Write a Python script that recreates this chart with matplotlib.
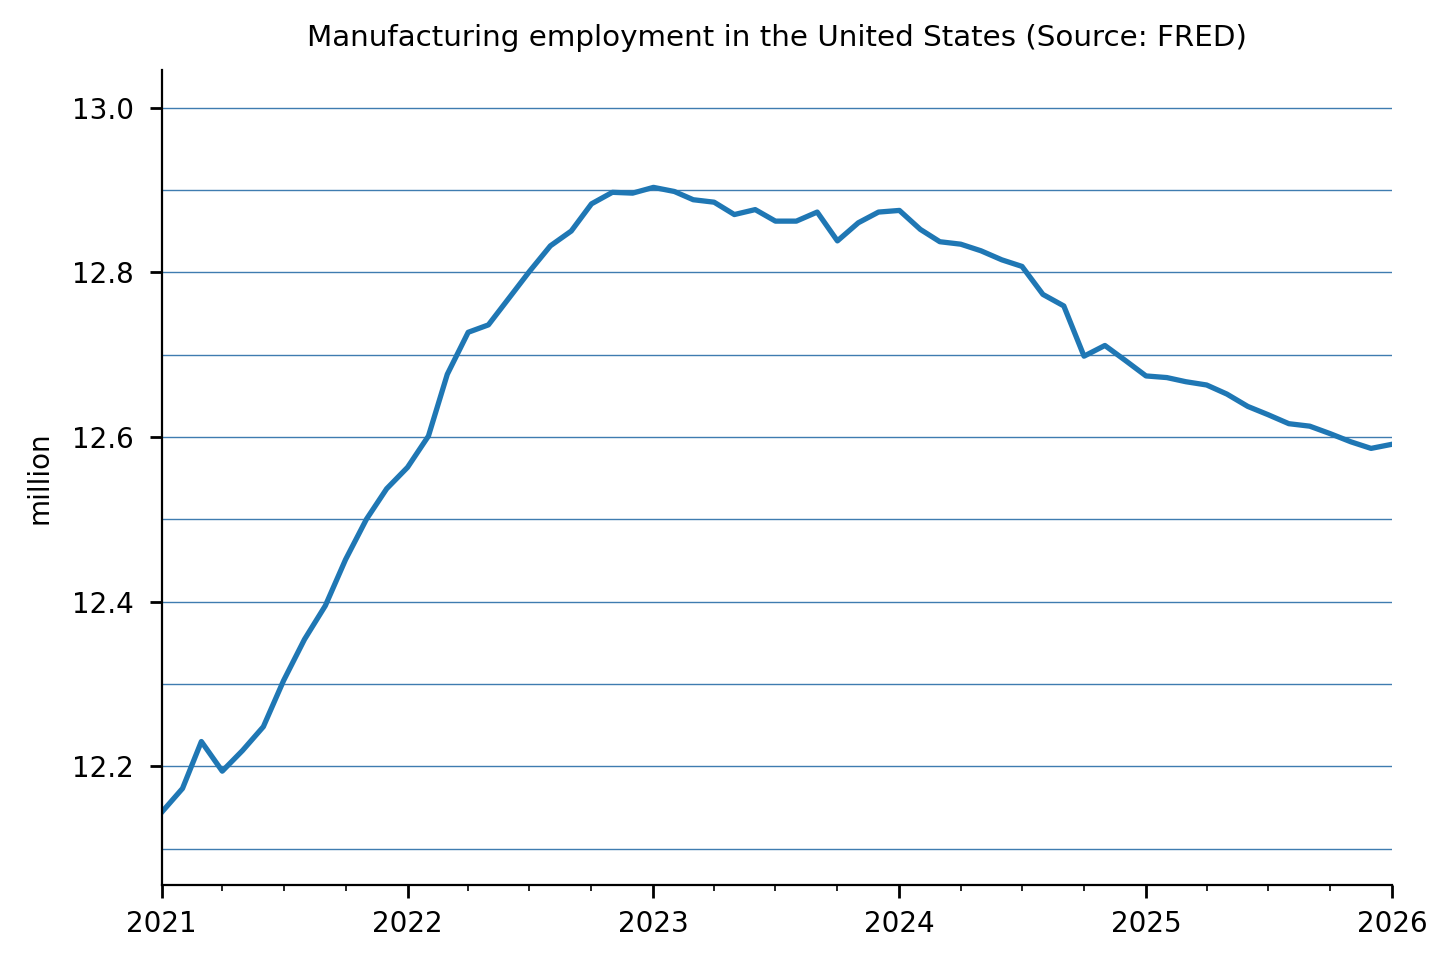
import numpy as np
import pandas as pd
import matplotlib
matplotlib.use("Agg")
import matplotlib.pyplot as plt
import matplotlib.dates as mdates
from matplotlib.ticker import MultipleLocator

# monthly manufacturing employment, million, Jan 2021 .. Jan 2026
dates = pd.date_range("2021-01-01", "2026-01-01", freq="MS")
values = [
    12.144, 12.173, 12.230, 12.194, 12.219, 12.248, 12.304, 12.354, 12.395, 12.451, 12.500, 12.537,
    12.563, 12.601, 12.676, 12.727, 12.736, 12.769, 12.801, 12.832, 12.850, 12.883, 12.897, 12.896,
    12.903, 12.898, 12.888, 12.885, 12.870, 12.876, 12.862, 12.862, 12.873, 12.838, 12.860, 12.873,
    12.875, 12.852, 12.837, 12.834, 12.826, 12.815, 12.807, 12.773, 12.759, 12.698, 12.711, 12.693,
    12.674, 12.672, 12.667, 12.663, 12.652, 12.637, 12.627, 12.616, 12.613, 12.604, 12.594, 12.586,
    12.591,
]

fig = plt.figure(figsize=(7.28, 4.835), dpi=200)
ax = fig.add_axes([0.111, 0.085, 0.845, 0.843])

ax.plot(dates, values, color="#1f77b4", linewidth=1.9)

ax.set_xlim(pd.Timestamp("2021-01-01"), pd.Timestamp("2026-01-01"))
ax.set_ylim(12.056, 13.046)

ax.xaxis.set_major_locator(mdates.YearLocator())
ax.xaxis.set_major_formatter(mdates.DateFormatter("%Y"))
ax.xaxis.set_minor_locator(mdates.MonthLocator(bymonth=[1, 4, 7, 10]))
ax.yaxis.set_major_locator(MultipleLocator(0.2))
ax.yaxis.set_minor_locator(MultipleLocator(0.1))
ax.tick_params(axis="y", which="minor", length=0)
ax.tick_params(axis="both", which="major", length=4.5, width=1.0, labelsize=10)
ax.tick_params(axis="y", which="major", pad=5.5)
ax.tick_params(axis="x", which="major", pad=4.5)
ax.tick_params(axis="x", which="minor", length=2.2)

ax.grid(True, axis="y", which="both", color="#3f7cb0", linewidth=0.5)
ax.set_axisbelow(True)

ax.spines["top"].set_visible(False)
ax.spines["right"].set_visible(False)

ax.set_ylabel("million", fontsize=10, labelpad=6.5)
ax.set_title("Manufacturing employment in the United States (Source: FRED)",
             fontsize=10.6, pad=8.5)

fig.savefig("out.png", dpi=200)
